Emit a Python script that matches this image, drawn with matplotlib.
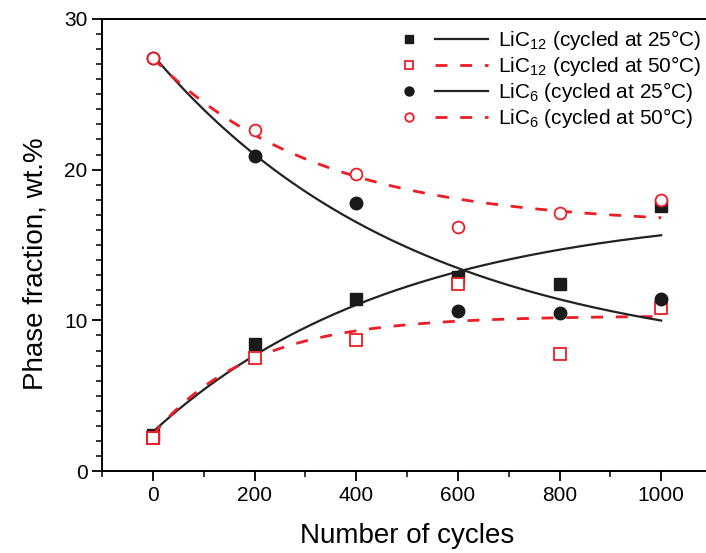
import numpy as np
import matplotlib.pyplot as plt
from matplotlib.legend_handler import HandlerTuple
from matplotlib.ticker import MultipleLocator

plt.rcParams['font.family'] = ['Liberation Sans', 'DejaVu Sans']
plt.rcParams['mathtext.fontset'] = 'custom'
plt.rcParams['mathtext.rm'] = 'Liberation Sans'
plt.rcParams['mathtext.it'] = 'Liberation Sans'

cycles = [0, 200, 400, 600, 800, 1000]

# measured phase fractions, wt.%
lic12_25 = [2.4, 8.4, 11.4, 12.9, 12.4, 17.6]
lic12_50 = [2.2, 7.5, 8.7, 12.4, 7.8, 10.8]
lic6_25 = [27.4, 20.9, 17.8, 10.6, 10.5, 11.4]
lic6_50 = [27.4, 22.6, 19.7, 16.2, 17.1, 18.0]

# exponential fits y = y_inf + (y_0 - y_inf) * exp(-n / tau)
fit_lic12_25 = [17.5, 2.6, 480]
fit_lic12_50 = [10.3, 2.4, 193]
fit_lic6_25 = [7.0, 27.6, 518]
fit_lic6_50 = [16.3, 27.4, 325]

labels = ['LiC$_{12}$ (cycled at 25°C)', 'LiC$_{12}$ (cycled at 50°C)',
          'LiC$_{6}$ (cycled at 25°C)', 'LiC$_{6}$ (cycled at 50°C)']


def fit_curve(p, n):
    return p[0] + (p[1] - p[0]) * np.exp(-n / p[2])


fig = plt.figure(figsize=(7.06, 5.53), dpi=100)
ax = fig.add_axes([0.1445, 0.148, 0.864, 0.818])

n = np.linspace(0, 1000, 300)
red = '#ee1c25'
dash = (0, (4.3, 4.6))

handles = []
l1, = ax.plot(n, fit_curve(fit_lic12_25, n), color='#222222', lw=1.6)
m1, = ax.plot(cycles, lic12_25, 's', color='#1a1a1a', ms=8.5, ls='none')
handles.append((m1, l1))

l2, = ax.plot(n, fit_curve(fit_lic12_50, n), color=red, lw=2, ls=dash)
m2, = ax.plot(cycles, lic12_50, 's', mfc='white', mec=red, mew=1.3, ms=8.5, ls='none')
handles.append((m2, l2))

l3, = ax.plot(n, fit_curve(fit_lic6_25, n), color='#222222', lw=1.6)
m3, = ax.plot(cycles, lic6_25, 'o', color='#1a1a1a', ms=9, ls='none')
handles.append((m3, l3))

l4, = ax.plot(n, fit_curve(fit_lic6_50, n), color=red, lw=2, ls=dash)
m4, = ax.plot(cycles, lic6_50, 'o', mfc='white', mec=red, mew=1.3, ms=8.5, ls='none')
handles.append((m4, l4))

# the open square at 0 sits on top of the fit lines
ax.plot(cycles[:1], lic12_50[:1], 's', mfc='none', mec=red, mew=1.3, ms=8.5, zorder=5)

ax.set_xlim(-100, 1100)
ax.set_ylim(0, 30)
ax.xaxis.set_major_locator(MultipleLocator(200))
ax.xaxis.set_minor_locator(MultipleLocator(100))
ax.yaxis.set_major_locator(MultipleLocator(10))
ax.yaxis.set_minor_locator(MultipleLocator(1))
ax.tick_params(which='major', length=7, width=1.3, labelsize=15, direction='out')
ax.tick_params(which='minor', length=4, width=1.1, direction='out')
ax.spines['right'].set_visible(False)
for s in ['left', 'bottom', 'top']:
    ax.spines[s].set_linewidth(1.4)

ax.set_xlabel('Number of cycles', fontsize=20, labelpad=13)
ax.set_ylabel('Phase fraction, wt.%', fontsize=20, labelpad=11, y=0.458)

ax.legend(handles, labels, handler_map={tuple: HandlerTuple(ndivide=2, pad=0)},
          loc='upper right', bbox_to_anchor=(702 / 706, 1 - 28 / 553),
          bbox_transform=fig.transFigure, frameon=False, fontsize=15,
          handlelength=5.1, handletextpad=0.48, labelspacing=0.1,
          borderaxespad=0, borderpad=0, markerscale=0.72)

plt.savefig('out.png', dpi=100)
